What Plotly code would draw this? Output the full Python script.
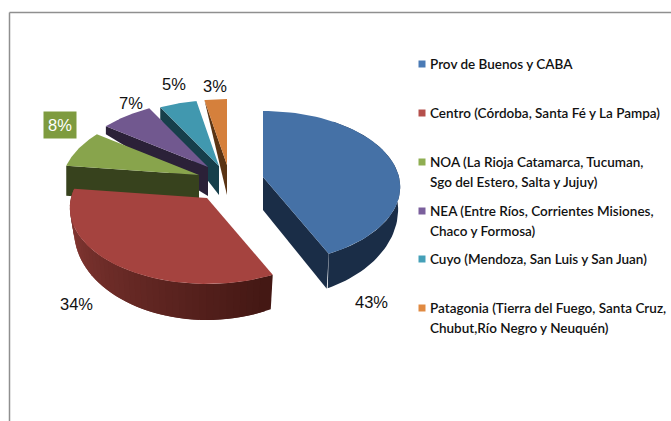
import math
import plotly.graph_objects as go

# --- data ---
regions = ["Prov de Buenos y CABA", "Centro (Córdoba, Santa Fé y La Pampa)",
           "NOA (La Rioja Catamarca, Tucuman,", "NEA (Entre Ríos, Corrientes Misiones,",
           "Cuyo (Mendoza, San Luis y San Juan)", "Patagonia (Tierra del Fuego, Santa Cruz,"]
regions_line2 = ["", "", "Sgo del Estero, Salta y Jujuy)", "Chaco y Formosa)", "",
                 "Chubut,Río Negro y Neuquén)"]
shares = [43, 34, 8, 7, 5, 3]
top_colors = ["#4571a6", "#a5433f", "#88a44c", "#71588f", "#4198af", "#d5803c"]
side_colors = ["#1a2d47", "#7a2f2c", "#37421d", "#2b2138", "#173f4b", "#5a3414"]
legend_colors = ["#4a7ab5", "#b5504c", "#8fae52", "#7a5f9c", "#45a0b8", "#e08a42"]
# --- layout of the exploded slices (pixel space of the frame) ---
apex = [(263, 177), (207, 198), (199, 175), (208, 167), (219, 166), (227, 165)]
label_pos = [(371, 302), (76, 304), (60, 125), (131, 103), (174, 84), (215, 86)]
legend_y = [64, 113, 162, 211, 259, 308]
A, B, K = 136, 74.7, 0.1316


def rim(theta):
    s, c = math.sin(theta), math.cos(theta)
    w = 1 + K * c
    return A * s / w, -B * c / w


def depth(theta):
    return max(0, 20 - 16 * math.cos(theta))


def arc(t0, t1, n=60):
    return [t0 + (t1 - t0) * i / n for i in range(n + 1)]


def poly(xs, ys, color, line=0.0):
    fig.add_trace(go.Scatter(x=xs + xs[:1], y=ys + ys[:1], mode="lines", fill="toself",
                             fillcolor=color, line=dict(color=color, width=line),
                             hoverinfo="skip", showlegend=False))


def mix(c0, c1, f):
    return "rgb(%d,%d,%d)" % tuple(round(c0[i] + (c1[i] - c0[i]) * f) for i in range(3))


fig = go.Figure()

# slice angles derived from the shares
edges = [0.0]
for v in shares:
    edges.append(edges[-1] + v / sum(shares) * 2 * math.pi)

cut_drop = [33, 33, 30, 29, 29, 30]
rim_drop = [35, 33, 30, 8, 12, 0]
for i in [5, 4, 3, 2, 1, 0]:
    ax, ay = apex[i]
    t0, t1 = edges[i], edges[i + 1]
    if i == 0:
        # cut face on the front edge, then outer wall
        x, y = rim(t1)
        poly([ax, ax + x, ax + x - 2, ax], [ay, ay + y, ay + y + 35, ay + cut_drop[i]], side_colors[i])
        ts = arc(math.radians(35), t1)
        top = [rim(t) for t in ts]
        xs = [ax + p[0] for p in top] + [ax + p[0] * 0.985 for p in top[::-1]]
        ys = [ay + p[1] for p in top] + [ay + p[1] + depth(t) for p, t in zip(top[::-1], ts[::-1])]
        poly(xs, ys, side_colors[i])
    elif i == 1:
        # outer wall with a horizontal gradient
        ts = arc(t0, t1, 48)
        for j in range(47, -1, -1):
            seg = [ts[j], ts[min(j + 2, 48)]]
            pts = [rim(t) for t in seg]
            xs = [ax + pts[0][0], ax + pts[1][0], ax + pts[1][0] * 0.97, ax + pts[0][0] * 0.97]
            ys = [ay + pts[0][1], ay + pts[1][1], ay + pts[1][1] + depth(seg[1]), ay + pts[0][1] + depth(seg[0])]
            f = (j / 47)
            poly(xs, ys, mix((68, 24, 20), (146, 62, 58), f))
    else:
        # cut face on the left edge
        x, y = rim(t0)
        poly([ax, ax + x, ax + x, ax], [ay, ay + y, ay + y + rim_drop[i], ay + cut_drop[i]], side_colors[i])
    ts = arc(t0, t1)
    pts = [rim(t) for t in ts]
    poly([ax] + [ax + p[0] for p in pts], [ay] + [ay + p[1] for p in pts], top_colors[i])

# legend markers
fig.add_trace(go.Scatter(x=[422] * 6, y=legend_y, mode="markers",
                         marker=dict(symbol="square", size=7, color=legend_colors),
                         hoverinfo="skip", showlegend=False))

annotations = []
for i, v in enumerate(shares):
    is_boxed = i == 2
    annotations.append(dict(x=label_pos[i][0], y=label_pos[i][1], text=f"{v}%", showarrow=False,
                            xanchor="center", yanchor="middle",
                            font=dict(family="Liberation Sans", size=16.5,
                                      color="white" if is_boxed else "#111111"),
                            bgcolor="#7e9b3f" if is_boxed else None, borderpad=4 if is_boxed else 0))
    annotations.append(dict(x=428, y=legend_y[i], text=regions[i], showarrow=False,
                            xanchor="left", yanchor="middle",
                            font=dict(family="Lato", size=13.5, color="#111111", weight=600)))
    if regions_line2[i]:
        annotations.append(dict(x=428, y=legend_y[i] + 20, text=regions_line2[i], showarrow=False,
                                xanchor="left", yanchor="middle",
                                font=dict(family="Lato", size=13.5, color="#111111", weight=600)))

frame = dict(type="line", line=dict(color="#8f8f8f", width=1.5), layer="above")
fig.update_layout(
    width=671, height=421, margin=dict(l=0, r=0, t=0, b=0),
    paper_bgcolor="white", plot_bgcolor="white",
    xaxis=dict(range=[0, 671], visible=False, fixedrange=True),
    yaxis=dict(range=[421, 0], visible=False, fixedrange=True),
    annotations=annotations,
    shapes=[dict(frame, x0=9.5, x1=9.5, y0=12.5, y1=421), dict(frame, x0=9.5, x1=671, y0=12.5, y1=12.5)],
)
fig.write_html("out.html", config={"displayModeBar": False},
               post_script="document.body.style.margin='0';document.documentElement.style.overflow='hidden';")
